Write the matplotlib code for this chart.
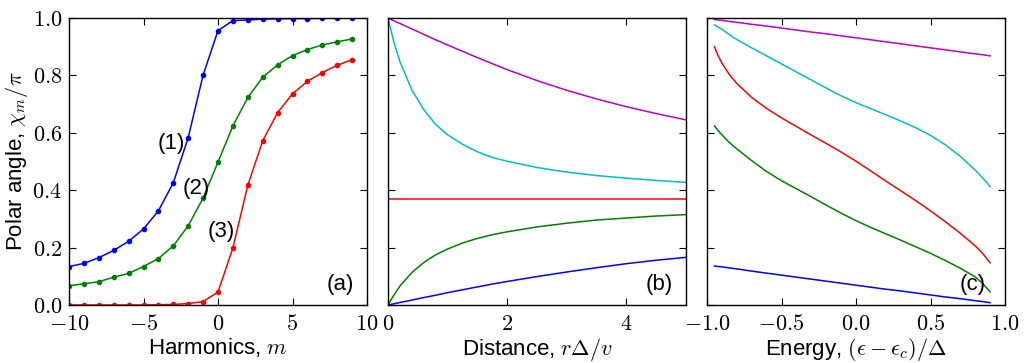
import matplotlib
matplotlib.use("Agg")
import matplotlib.pyplot as plt
from matplotlib.ticker import FuncFormatter, FixedLocator

# ---------------- data ----------------
# Panel (a): polar angle vs harmonic index
harm_m = list(range(-10, 10))
chi_1 = [0.134, 0.145, 0.165, 0.190, 0.222, 0.265, 0.328, 0.426, 0.583, 0.801,
         0.956, 0.991, 0.993, 0.996, 0.997, 0.998, 0.998, 0.999, 0.999, 0.999]
chi_2 = [0.067, 0.074, 0.081, 0.097, 0.110, 0.134, 0.162, 0.206, 0.276, 0.373,
         0.498, 0.624, 0.723, 0.793, 0.837, 0.869, 0.890, 0.906, 0.917, 0.927]
chi_3 = [0.000, 0.000, 0.000, 0.000, 0.000, 0.000, 0.001, 0.002, 0.005, 0.012,
         0.045, 0.199, 0.417, 0.572, 0.670, 0.736, 0.779, 0.810, 0.835, 0.855]
curve_labels = ["(1)", "(2)", "(3)"]

# Panel (b): polar angle vs distance
dist_r = [0.0, 0.1, 0.2, 0.4, 0.6, 0.8, 1.0, 1.25, 1.5, 1.75, 2.0, 2.5, 3.0, 3.5, 4.0, 4.5, 5.0]
b_magenta = [1.000, 0.990, 0.981, 0.962, 0.943, 0.924, 0.906, 0.884, 0.862, 0.841,
             0.820, 0.782, 0.748, 0.718, 0.691, 0.667, 0.645]
b_cyan = [1.000, 0.915, 0.848, 0.749, 0.681, 0.629, 0.593, 0.560, 0.534, 0.514,
          0.501, 0.479, 0.463, 0.451, 0.442, 0.434, 0.427]
b_red = [0.368] * len(dist_r)
b_green = [0.000, 0.035, 0.066, 0.113, 0.148, 0.175, 0.195, 0.216, 0.232, 0.245,
           0.255, 0.272, 0.285, 0.296, 0.303, 0.310, 0.315]
b_blue = [0.000, 0.0043, 0.0086, 0.017, 0.026, 0.034, 0.043, 0.053, 0.063, 0.073,
          0.082, 0.099, 0.115, 0.130, 0.144, 0.156, 0.166]

# Panel (c): polar angle vs energy
energy = [-0.95, -0.925, -0.9, -0.85, -0.8, -0.7, -0.6, -0.5, -0.4, -0.3, -0.2, -0.1, 0.0,
          0.1, 0.2, 0.3, 0.4, 0.5, 0.6, 0.7, 0.8, 0.85, 0.9]
c_magenta = [0.995, 0.993, 0.992, 0.988, 0.985, 0.978, 0.972, 0.965, 0.958, 0.951, 0.945, 0.938,
             0.931, 0.924, 0.917, 0.910, 0.903, 0.896, 0.889, 0.882, 0.875, 0.872, 0.868]
c_cyan = [0.976, 0.968, 0.961, 0.942, 0.925, 0.896, 0.868, 0.840, 0.812, 0.784, 0.756, 0.729,
          0.705, 0.684, 0.663, 0.641, 0.618, 0.591, 0.558, 0.518, 0.470, 0.443, 0.413]
c_red = [0.900, 0.868, 0.843, 0.803, 0.772, 0.723, 0.685, 0.652, 0.622, 0.592, 0.563, 0.533,
         0.501, 0.467, 0.432, 0.398, 0.364, 0.328, 0.290, 0.250, 0.206, 0.180, 0.147]
c_green = [0.624, 0.607, 0.593, 0.566, 0.544, 0.503, 0.465, 0.433, 0.405, 0.377, 0.348, 0.320,
           0.294, 0.270, 0.248, 0.226, 0.203, 0.180, 0.155, 0.128, 0.098, 0.075, 0.046]
c_blue = [0.136, 0.134, 0.133, 0.129, 0.126, 0.118, 0.111, 0.104, 0.097, 0.090, 0.083, 0.076,
          0.069, 0.062, 0.055, 0.049, 0.042, 0.035, 0.028, 0.022, 0.015, 0.012, 0.008]

a_ticks = [-10, -5, 0, 5, 10]
b_ticks = [0, 2, 4]
c_ticks = [-1.0, -0.5, 0.0, 0.5, 1.0]
y_ticks = [0.0, 0.2, 0.4, 0.6, 0.8, 1.0]

# ---------------- style ----------------
plt.rcParams['font.family'] = ['Liberation Sans', 'DejaVu Sans']
plt.rcParams['mathtext.fontset'] = 'cm'
FS = 16
plt.rcParams['font.size'] = FS

BLUE = (0, 0, 1)
GREEN = (0, 0.5, 0)
RED = (1, 0, 0)
CYAN = (0, 0.75, 0.75)
MAGENTA = (0.75, 0, 0.75)

fig = plt.figure(figsize=(10.24, 3.63), dpi=100, facecolor='white')
W, H = 1024.0, 363.0
bottom = (H - 305) / H
height = 287 / H
axw = 298 / W
ax_a = fig.add_axes([69 / W, bottom, axw, height])
ax_b = fig.add_axes([388 / W, bottom, axw, height])
ax_c = fig.add_axes([707 / W, bottom, axw, height])


def fmt_int(v, pos):
    return r'$%d$' % int(round(v))


def fmt_1(v, pos):
    return r'$%.1f$' % v


for ax in (ax_a, ax_b, ax_c):
    ax.tick_params(direction='in', top=True, right=True, length=5, width=0.8,
                   labelsize=FS)
    ax.tick_params(axis='x', pad=6.5)
    ax.tick_params(axis='y', pad=5)
    for s in ax.spines.values():
        s.set_linewidth(1.0)
    ax.set_ylim(0, 1)
    ax.yaxis.set_major_locator(FixedLocator(y_ticks))

lw = 1.1
LP = 1
# Panel (a)
for ys, col in zip([chi_1, chi_2, chi_3], [BLUE, GREEN, RED]):
    ax_a.plot(harm_m, ys, '-', color=col, lw=lw, marker='o', ms=3.0,
              mec=col, mfc=col)
ax_a.set_xlim(-10, 10)
ax_a.xaxis.set_major_locator(FixedLocator(a_ticks))
ax_a.xaxis.set_major_formatter(FuncFormatter(fmt_int))
ax_a.yaxis.set_major_formatter(FuncFormatter(fmt_1))
ax_a.set_xlabel(r'Harmonics, $m$', fontsize=FS, labelpad=LP)
ax_a.set_ylabel(r'Polar angle, $\chi_m/\pi$', fontsize=FS, labelpad=2)
for lab, (x, y) in zip(curve_labels, [(-3.1, 0.564), (-1.45, 0.407), (0.2, 0.256)]):
    ax_a.text(x, y, lab, ha='center', va='center', fontsize=FS)
ax_a.text(0.91, 0.07, '(a)', transform=ax_a.transAxes, ha='center', va='center', fontsize=FS)

# Panel (b)
for ys, col in zip([b_magenta, b_cyan, b_red, b_green, b_blue],
                   [MAGENTA, CYAN, RED, GREEN, BLUE]):
    ax_b.plot(dist_r, ys, '-', color=col, lw=lw)
ax_b.set_xlim(0, 5)
ax_b.xaxis.set_major_locator(FixedLocator(b_ticks))
ax_b.xaxis.set_major_formatter(FuncFormatter(fmt_int))
ax_b.set_yticklabels([])
ax_b.set_xlabel(r'Distance, $r\Delta/v$', fontsize=FS, labelpad=LP)
ax_b.text(0.91, 0.07, '(b)', transform=ax_b.transAxes, ha='center', va='center', fontsize=FS)

# Panel (c)
for ys, col in zip([c_magenta, c_cyan, c_red, c_green, c_blue],
                   [MAGENTA, CYAN, RED, GREEN, BLUE]):
    ax_c.plot(energy, ys, '-', color=col, lw=lw)
ax_c.set_xlim(-1, 1)
ax_c.xaxis.set_major_locator(FixedLocator(c_ticks))
ax_c.xaxis.set_major_formatter(FuncFormatter(fmt_1))
ax_c.set_yticklabels([])
ax_c.set_xlabel(r'Energy, $(\epsilon-\epsilon_c)/\Delta$', fontsize=FS, labelpad=LP)
ax_c.text(0.89, 0.07, '(c)', transform=ax_c.transAxes, ha='center', va='center', fontsize=FS)

fig.savefig('out.png', dpi=100, facecolor='white')
